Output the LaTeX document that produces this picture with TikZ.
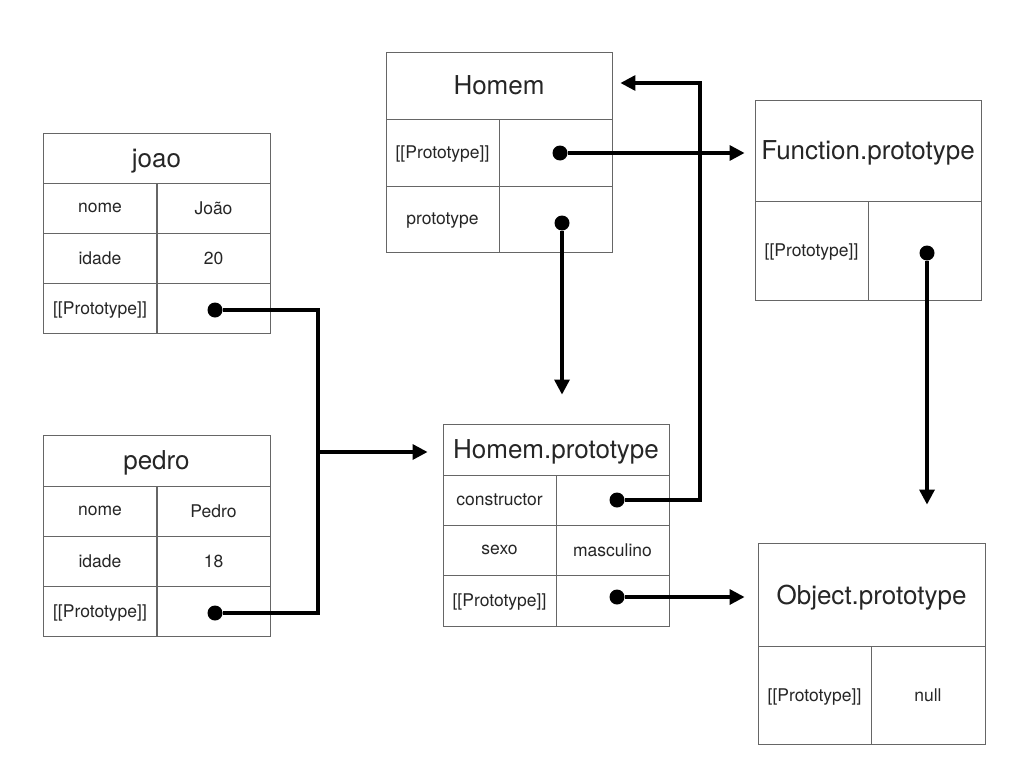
\documentclass[tikz,border=0pt]{standalone}
\usepackage{fontspec}
\setmainfont{TeX Gyre Heros}
\usetikzlibrary{arrows.meta}

\begin{document}
\begin{tikzpicture}[x=1pt,y=-1pt,
cell/.style = {draw=black!60, line width=0.9pt, inner sep=0pt, minimum width=113pt, minimum height=50pt, text depth=0pt, text=black!85, font=\fontsize{17.5}{19}\selectfont},
head/.style = {cell, minimum width=227pt, font=\fontsize{26}{28}\selectfont},
dot/.style = {circle, fill=black, inner sep=0pt, minimum size=15pt},
link/.style = {line width=3.3pt, -{Triangle[length=15pt,width=15pt]}},
bar/.style = {line width=3.3pt}]
\useasboundingbox (0,0) rectangle (1024,768);
\node[head] (joao) at (156.5,158) {joao};
\node[cell] (joao-n) at (100,208) {nome};
\node[cell, minimum width=113pt] (joao-nv) at (213.5,208) {João};
\node[cell] (joao-i) at (100,258) {idade};
\node[cell] (joao-iv) at (213.5,258) {20};
\node[cell] (joao-p) at (100,308) {[[Prototype]]};
\node[cell] (joao-pv) at (213.5,308) {};
\node[dot] (joao-d) at (215,310) {};

\node[head, minimum height=51pt] (pedro) at (156.5,460.5) {pedro};
\node[cell] (pedro-n) at (100,511) {nome};
\node[cell] (pedro-nv) at (213.5,511) {Pedro};
\node[cell] (pedro-i) at (100,561) {idade};
\node[cell] (pedro-iv) at (213.5,561) {18};
\node[cell] (pedro-p) at (100,611) {[[Prototype]]};
\node[cell] (pedro-pv) at (213.5,611) {};
\node[dot] (pedro-d) at (215,613) {};

\node[head, minimum width=226pt, minimum height=67pt] (homem) at (499,85.5) {Homem};
\node[cell, minimum height=67pt] (homem-p) at (442.5,152.5) {[[Prototype]]};
\node[cell, minimum height=67pt] (homem-pv) at (555.5,152.5) {};
\node[cell, minimum height=66pt] (homem-t) at (442.5,219) {prototype};
\node[cell, minimum height=66pt] (homem-tv) at (555.5,219) {};
\node[dot] (homem-pd) at (560,153) {};
\node[dot] (homem-td) at (562,223) {};

\node[head, minimum width=226pt, minimum height=51pt] (hp) at (556,449.5) {Homem.prototype};
\node[cell] (hp-c) at (499.5,500) {constructor};
\node[cell] (hp-cv) at (612.5,500) {};
\node[cell] (hp-s) at (499.5,550) {sexo};
\node[cell] (hp-sv) at (612.5,550) {masculino};
\node[cell, minimum height=51pt] (hp-p) at (499.5,600.5) {[[Prototype]]};
\node[cell, minimum height=51pt] (hp-pv) at (612.5,600.5) {};
\node[dot] (hp-cd) at (617,500) {};
\node[dot] (hp-pd) at (617,597) {};

\node[head, minimum width=226pt, minimum height=101pt] (fp) at (868,150.5) {Function.prototype};
\node[cell, minimum height=99pt] (fp-p) at (811.5,250.5) {[[Prototype]]};
\node[cell, minimum height=99pt] (fp-pv) at (924.5,250.5) {};
\node[dot] (fp-d) at (927,253) {};

\node[head, minimum height=103pt] (op) at (871.5,594.5) {Object.prototype};
\node[cell, minimum height=98pt] (op-p) at (814.5,695) {[[Prototype]]};
\node[cell, minimum width=114pt, minimum height=98pt] (op-pv) at (928,695) {null};

\coordinate (bus) at (318,452);
\coordinate (turn) at (700,83);
\draw[bar] (joao-d) -| (bus) |- (pedro-d);
\draw[link, shorten >=15pt] (bus) -- (bus -| hp.west);
\draw[link, shorten >=10pt] (homem-pd) -- (homem-pd -| fp.west);
\draw[link, shorten >=29pt] (homem-td) -- (homem-td |- hp.north);
\draw[link, shorten >=38pt] (fp-d) -- (fp-d |- op.north);
\draw[link, shorten >=8pt] (hp-cd) -| (turn) -- (turn -| homem.east);
\draw[link, shorten >=13pt] (hp-pd) -- (hp-pd -| op.west);
\end{tikzpicture}
\end{document}
